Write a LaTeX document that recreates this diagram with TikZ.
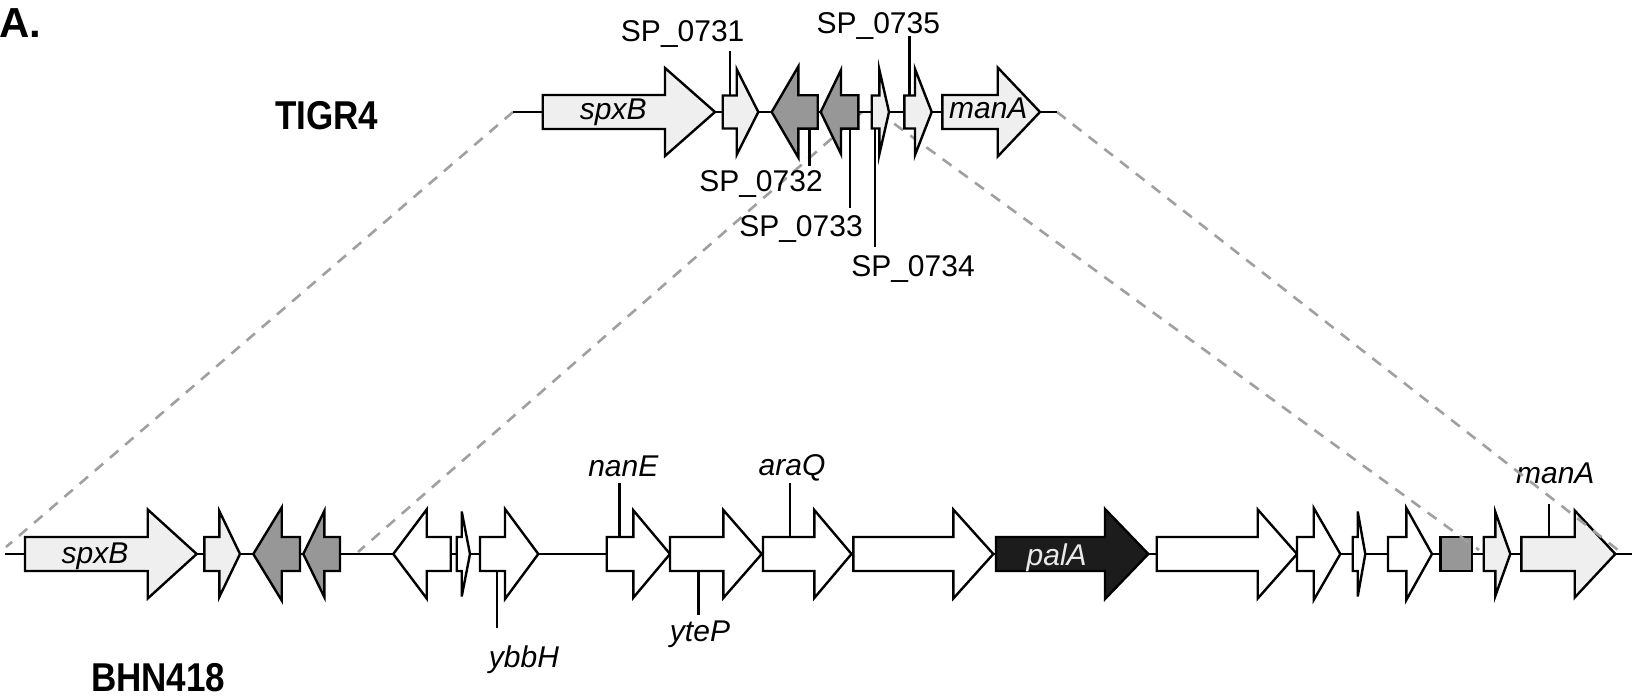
\documentclass[tikz,border=0pt]{standalone}
\usepackage{fontspec}
\setmainfont{Liberation Sans}
\definecolor{lightfill}{HTML}{EFEFEF}
\definecolor{darkfill}{HTML}{979797}
\definecolor{blackfill}{HTML}{1C1C1C}
\definecolor{dashgray}{HTML}{A0A0A0}
\definecolor{paltext}{HTML}{EAEAEA}
% right-pointing gene: body start, head base, tip, centre y, body half-height, head half-height, style
\newcommand\geneR[7]{\draw[#7] (#1,#4-#5) -- (#2,#4-#5) -- (#2,#4-#6) -- (#3,#4) -- (#2,#4+#6) -- (#2,#4+#5) -- (#1,#4+#5) -- cycle;}
% left-pointing gene: tip, head base, body end, centre y, body half-height, head half-height, style
\newcommand\geneL[7]{\draw[#7] (#1,#4) -- (#2,#4-#6) -- (#2,#4-#5) -- (#3,#4-#5) -- (#3,#4+#5) -- (#2,#4+#5) -- (#2,#4+#6) -- cycle;}
\newcommand\tallbold[1]{\scalebox{1}[1.15]{#1}}
\begin{document}
\begin{tikzpicture}[x=0.5pt,y=-0.5pt,
  gene/.style={draw=black, line width=1.2pt, line join=miter},
  lgt/.style={gene, fill=lightfill},
  drk/.style={gene, fill=darkfill},
  wht/.style={gene, fill=white},
  blk/.style={gene, fill=blackfill},
  backbone/.style={line width=1.2pt},
  leader/.style={line width=1.2pt},
  link/.style={draw=dashgray, line width=1.3pt, dash pattern=on 5.5pt off 4.5pt},
  lab/.style={inner sep=0pt, anchor=base, font=\fontsize{15}{18}\selectfont},
  ilab/.style={inner sep=0pt, anchor=base, font=\fontsize{15}{18}\selectfont\itshape},
  strain/.style={inner sep=0pt, anchor=base, font=\fontsize{17.5}{20}\selectfont\bfseries}]
\useasboundingbox (0,0) rectangle (1632,700);

% ---------- BHN418 row ----------
\coordinate (bl) at (5,554);
\coordinate (br) at (1632,554);
\draw[backbone] (bl) -- (br);
\geneR{25}{147.7}{196.7}{554}{17}{44.5}{lgt}
\geneR{204.3}{219.3}{240}{554}{17}{43}{lgt}
\geneL{253.3}{281.7}{300}{554}{17}{46.5}{drk}
\geneL{303.3}{324.3}{340}{554}{17}{43}{drk}
\geneL{393.3}{426.7}{450.7}{554}{17}{44.5}{wht}
\geneR{456.7}{461.7}{470}{554}{17}{42.5}{wht}
\geneR{480}{505}{538.3}{554}{17}{45}{wht}
\geneR{606.7}{633.3}{670}{554}{17}{43.7}{wht}
\geneR{670}{723.3}{761.7}{554}{17}{44}{wht}
\geneR{763}{814.3}{851.5}{554}{17}{44}{wht}
\geneR{853.3}{953.3}{993.3}{554}{17}{44.5}{wht}
\geneR{996}{1105}{1148.3}{554}{17}{45}{blk}
\geneR{1156.7}{1257.7}{1297}{554}{17}{44.5}{wht}
\geneR{1297}{1313.7}{1340.3}{554}{17}{46}{wht}
\geneR{1352.7}{1357.7}{1365.3}{554}{17}{42.5}{wht}
\geneR{1388}{1406.3}{1432}{554}{17}{46}{wht}
\draw[drk] (1440.3,537) rectangle (1472,571);
\geneR{1483.7}{1495.3}{1510.3}{554}{17}{42}{lgt}
\geneR{1521.3}{1574.7}{1615.3}{554}{17}{43.5}{lgt}

\node[ilab] (bspxB) at (95,563.3) {spxB};
\node[ilab, text=paltext] (bpalA) at (1056.7,565) {palA};
\node[ilab] (nanE) at (623.3,476.7) {nanE};
\node[ilab] (araQ) at (792,475) {araQ};
\node[ilab] (bmanA) at (1555.3,483.3) {manA};
\node[ilab] (ybbH) at (524,667) {ybbH};
\node[ilab] (yteP) at (700,641) {yteP};
\draw[leader] (496.7,571) -- (496.7,628);
\draw[leader] (619.3,483.3) -- (619.3,537);
\draw[leader] (698.3,571) -- (698.3,615);
\draw[leader] (790,482.7) -- (790,537);
\draw[leader] (1548.7,504) -- (1548.7,537);

% ---------- dashed links ----------
\coordinate (tl) at (513,112);
\coordinate (ti1) at (862,112);
\coordinate (ti2) at (878,112);
\coordinate (tr) at (1057,112);
\coordinate (bo1) at (6,547);
\coordinate (bi1) at (358,552);
\coordinate (bi2) at (1479,550);
\coordinate (bo2) at (1618,550);
\draw[link] (tl) -- (bo1);
\draw[link] (ti1) -- (bi1);
\draw[link] (ti2) -- (bi2);
\draw[link] (tr) -- (bo2);

% ---------- TIGR4 row ----------
\draw[backbone] (tl) -- (tr);
\geneR{542.7}{665}{715}{112}{17}{44}{lgt}
\geneR{722.7}{736.7}{758.3}{112}{16.5}{42.7}{lgt}
\geneL{771.7}{798.3}{817.7}{112}{16.7}{45.5}{drk}
\geneL{820.7}{841}{858.3}{112}{16.7}{42}{drk}
\geneR{871.7}{879.3}{889}{112}{16.5}{42.5}{lgt}
\geneR{904.3}{915}{931.7}{112}{16.5}{43}{lgt}
\geneR{942.3}{997.7}{1040}{112}{17}{44.5}{lgt}

\node[ilab] (tspxB) at (613.3,120) {spxB};
\node[ilab] (tmanA) at (988.3,118.3) {manA};
\node[lab] (s731) at (682.7,41.7) {SP\_0731};
\node[lab] (s735) at (878.3,33.3) {SP\_0735};
\node[lab] (s732) at (761,191.7) {SP\_0732};
\node[lab] (s733) at (801,236.7) {SP\_0733};
\node[lab] (s734) at (913,276.7) {SP\_0734};
\draw[leader] (730,51) -- (730,95.5);
\draw[leader] (909.3,36) -- (909.3,95.5);
\draw[leader] (809.3,128.7) -- (809.3,166);
\draw[leader] (850,128.7) -- (850,208);
\draw[leader] (875,128.5) -- (875,246.7);

% ---------- strain names ----------
\node[strain, anchor=base west, font=\fontsize{21}{24}\selectfont\bfseries] (panel) at (-1,38) {A.};
\node[strain] (tigr) at (326.7,130) {\tallbold{TIGR4}};
\node[strain] (bhn) at (158.3,691.7) {\tallbold{BHN418}};
\end{tikzpicture}
\end{document}
